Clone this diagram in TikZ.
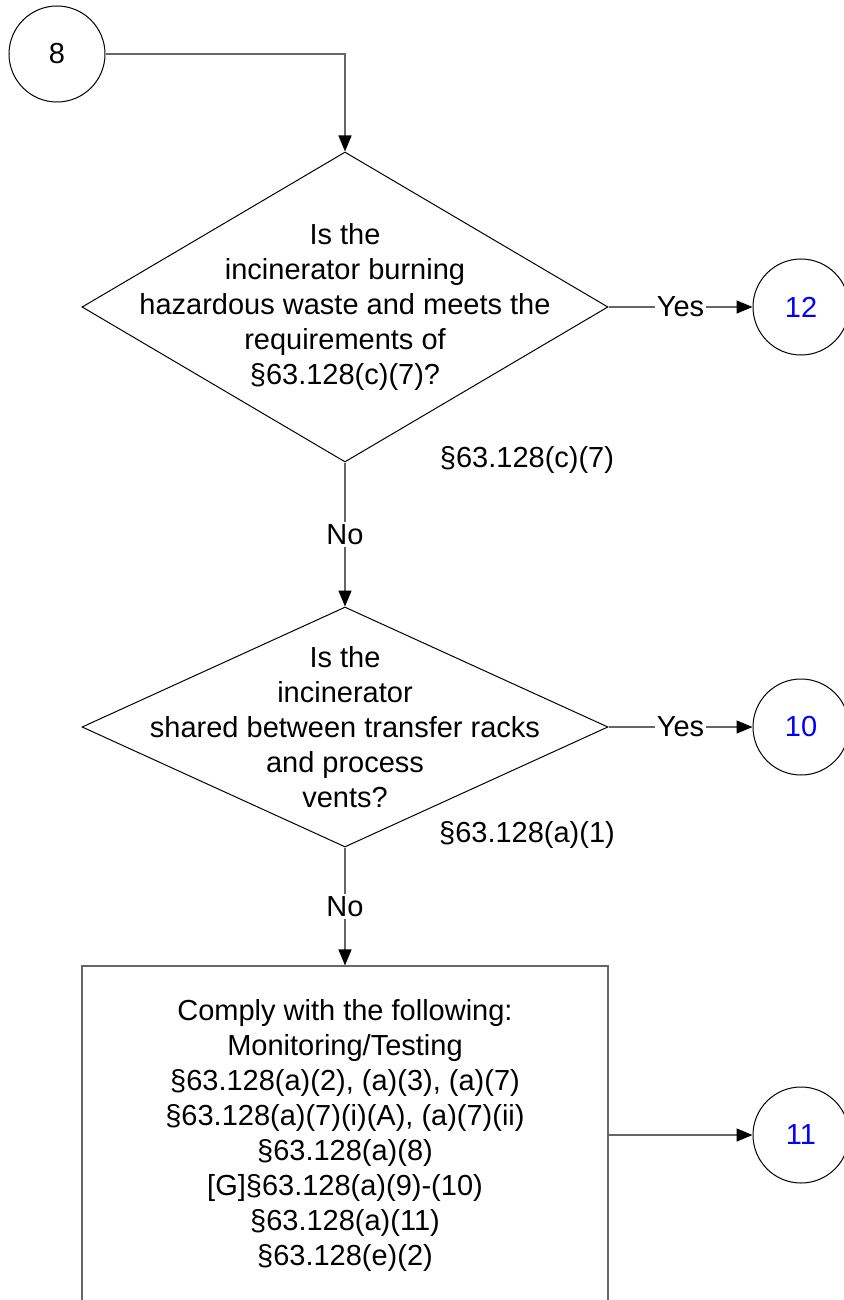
\documentclass[tikz,border=0pt]{standalone}
\usepackage{fontspec}
\setmainfont{Liberation Sans}
\usetikzlibrary{shapes.geometric,arrows.meta}

\begin{document}
\begin{tikzpicture}[x=0.5pt,y=-0.5pt,
  font=\fontsize{14.5}{17.5}\selectfont,
  decision/.style={diamond,draw=black,line width=0.5pt,inner sep=0pt,minimum width=263pt},
  offpage/.style={circle,draw=black,line width=0.5pt,inner sep=0pt,minimum size=48pt},
  action/.style={rectangle,draw=black!60,line width=0.6pt,minimum width=263pt,minimum height=169pt,align=center},
  flow/.style={draw=black!60,line width=0.7pt,-{Triangle[length=8pt,width=6.5pt,color=black]}},
  edgelbl/.style={fill=white,inner sep=1pt},
  qtext/.style={align=center,inner sep=0pt}]
\useasboundingbox (0,0) rectangle (844,1300);

\node[offpage] (c8) at (57,54) {8};

\node[decision,minimum height=155pt] (d1) at (345,307) {};
\node[qtext] (q1) at (d1.center) {Is the\\incinerator burning\\hazardous waste and meets the\\requirements of\\§63.128(c)(7)?};
\node (r1) at (527,460) {§63.128(c)(7)};
\node[offpage,text=blue] (c12) at (801,307) {12};

\node[decision,minimum height=120pt] (d2) at (345,727) {};
\node[qtext] (q2) at (d2.center) {Is the\\incinerator\\shared between transfer racks\\and process\\vents?};
\node (r2) at (527,835) {§63.128(a)(1)};
\node[offpage,text=blue] (c10) at (801,727) {10};

\node[action] (act) at (345,1135) {Comply with the following:\\Monitoring/Testing\\§63.128(a)(2), (a)(3), (a)(7)\\§63.128(a)(7)(i)(A), (a)(7)(ii)\\§63.128(a)(8)\\{[G]}§63.128(a)(9)-(10)\\§63.128(a)(11)\\§63.128(e)(2)};
\node[offpage,text=blue] (c11) at (801,1135) {11};

\draw[flow] (c8.east) -| (d1.north);
\draw[flow] (d1.east) -- node[edgelbl] {Yes} (c12.west);
\draw[flow] (d1.south) -- node[edgelbl] {No} (d2.north);
\draw[flow] (d2.east) -- node[edgelbl] {Yes} (c10.west);
\draw[flow] (d2.south) -- node[edgelbl] {No} (act.north);
\draw[flow] (act.east) -- (c11.west);

\end{tikzpicture}
\end{document}
